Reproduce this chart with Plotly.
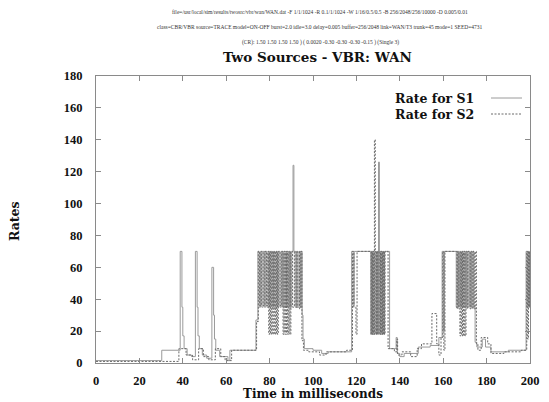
import plotly.graph_objects as go

# ---- data ----
S1_TIME = [
    0, 30.3, 38.8, 39.6, 40.0, 40.6, 42.0, 44.0, 45.8, 46.6, 47.0, 47.6, 49.0, 51.0,
    53.4, 54.2, 54.6, 55.2, 57.0, 60.8, 61.7, 73.7,
    74.6, 75.2, 75.8, 76.4, 77.0, 77.6, 78.2, 78.8, 79.4, 80.0, 80.6, 81.2, 81.8, 82.4,
    83.0, 83.6, 84.2, 84.8, 85.4, 86.0, 86.6, 87.2, 87.8, 88.4, 89.0, 89.6, 90.2,
    90.8, 91.2, 91.8, 92.4, 93.0, 93.6, 94.2, 94.6, 95.0, 95.4, 96.0, 100.0, 104.0, 107.0,
    117.8, 118.5, 119.0, 126.6, 127.0, 127.4, 127.8, 128.2, 128.6, 129.0, 129.4, 129.8,
    130.2, 130.6, 131.0, 131.4, 131.8, 132.2, 132.6, 133.0,
    135.3, 138.3, 138.8, 140.0, 142.0, 148.5, 154.0, 158.0,
    159.5, 160.0, 160.5, 166.0, 166.5, 167.0, 167.5, 168.0, 168.5, 169.0, 169.5, 170.0,
    170.5, 171.0, 171.5, 172.2, 172.7, 173.2, 173.7, 174.2, 174.7,
    175.5, 178.0, 179.5, 182.0, 190.0, 198.2, 198.6, 199.0, 199.4, 199.8, 200.0,
]
S1_RATE = [
    1.5, 8, 70, 35, 17, 9, 5, 4, 70, 35, 17, 9, 5, 3,
    60, 30, 15, 8, 4, 1.5, 8, 27,
    70, 35, 70, 35, 70, 35, 70, 35, 70, 35, 70, 35, 70, 35,
    70, 35, 70, 35, 70, 35, 70, 35, 70, 35, 70, 35, 70,
    124, 70, 35, 70, 35, 70, 35, 70, 30, 15, 9, 8, 6, 7,
    70, 36, 70, 18, 70, 18, 70, 18, 70, 18, 70, 18,
    126, 70, 18, 70, 18, 70, 18, 70,
    9, 16, 6, 4, 6, 10, 11, 16,
    70, 20, 70, 35, 70, 35, 70, 35, 70, 35, 70, 35,
    70, 35, 70, 35, 70, 35, 70, 35, 13,
    10, 15, 10, 7, 8, 70, 35, 70, 35, 70, 70,
]

S2_TIME = [
    0, 38.2, 41.5, 44.5, 47.3, 49.5, 52.0, 55.0, 57.5, 59.5, 62.5, 74.0,
    74.8, 75.4, 76.2, 77.0, 77.8, 78.6, 79.2, 79.6, 80.0, 80.4, 80.8, 81.2, 81.6, 82.0,
    82.4, 82.8, 83.2, 83.6, 84.0, 84.8, 85.6, 86.2, 86.6, 87.0, 87.4, 87.8, 88.2, 88.6,
    89.0, 89.4, 89.8, 90.6, 91.4, 92.2, 93.0, 93.8, 94.4, 94.9, 95.6, 98.0, 103.0, 106.0,
    115.5, 118.2, 118.8, 119.8, 120.3, 126.8, 127.1, 127.4, 127.7, 128.0, 128.3, 128.7,
    129.0, 129.3, 129.6, 129.9, 130.5, 130.8, 131.1, 131.4, 131.7, 132.0, 132.3, 132.6,
    132.9, 133.2, 134.6,
    137.5, 138.6, 139.0, 141.0, 145.0, 148.0, 150.0, 154.8, 157.0, 158.0, 159.0,
    159.8, 160.3, 160.8, 166.3, 166.7, 167.2, 167.7, 168.1, 168.5, 168.9, 169.3, 169.7,
    170.1, 170.5, 171.0, 171.4, 172.4, 172.8, 173.3, 173.8, 174.3, 174.8, 175.3,
    176.0, 177.5, 180.5, 182.0, 188.0, 196.0, 198.5, 198.9, 199.3, 199.7, 200.0,
]
S2_RATE = [
    1, 9, 5, 2, 9, 4, 2, 9, 4, 1.5, 8, 26,
    70, 36, 70, 36, 70, 36, 70, 18, 70, 18, 70, 18, 70, 18,
    70, 18, 70, 18, 70, 36, 70, 18, 70, 18, 70, 18, 70, 18,
    70, 18, 70, 35, 70, 35, 70, 34, 70, 14, 8, 7, 5, 7,
    8, 70, 35, 18, 70, 18, 70, 18, 70, 18, 140, 70,
    18, 70, 18, 70, 18, 70, 18, 70, 18, 70, 18, 70,
    18, 70, 9,
    7, 15, 5, 7, 4, 9, 12, 31, 12, 5, 16,
    70, 8, 70, 34, 70, 34, 17, 70, 17, 70, 17, 70,
    17, 70, 34, 70, 34, 70, 34, 70, 34, 70, 12,
    8, 16, 12, 6, 7, 8, 70, 15, 70, 35, 70,
]

SERIES_NAMES = ["Rate for S1", "Rate for S2"]
X_TICKS = [0, 20, 40, 60, 80, 100, 120, 140, 160, 180, 200]
Y_TICKS = [0, 20, 40, 60, 80, 100, 120, 140, 160, 180]
TITLE = "Two Sources - VBR: WAN"
X_TITLE = "Time in milliseconds"
Y_TITLE = "Rates"
HEADER_LINES = [
    "file=/usr/local/sim/results/twosrc/vbr/wan/WAN.dat -F 1/1/1024 -R 0.1/1/1024 -W 1/16/0.5/0.5 -B 256/2048/256/10000 -D 0.005/0.01",
    "class=CBR/VBR source=TRACE model=ON-OFF burst=2.0 idle=3.0 delay=0.005 buffer=256/2048 link=WAN/T3 trunk=45 mode=1 SEED=4731",
    "(CR): 1.50 1.50 1.50 1.50 ) ( 0.0020 -0.30 -0.30 -0.30 -0.15 ) (Single 3)",
]

assert len(S1_TIME) == len(S1_RATE)
assert len(S2_TIME) == len(S2_RATE)

SERIF = "Liberation Serif, Times New Roman, serif"
WIDE_SERIF = "DejaVu Serif, serif"
C1 = "#9a9a9a"
C2 = "#6a6a6a"
DASH2 = "2px,1.5px"

fig = go.Figure()
fig.add_trace(go.Scatter(x=S1_TIME, y=S1_RATE, mode="lines", line_shape="hv",
                         line=dict(color=C1, width=1), name=SERIES_NAMES[0],
                         showlegend=False))
fig.add_trace(go.Scatter(x=S2_TIME, y=S2_RATE, mode="lines", line_shape="hv",
                         line=dict(color=C2, width=1, dash=DASH2), name=SERIES_NAMES[1],
                         showlegend=False))

W, H = 549, 402
L, R, T, B = 96, 19, 76, 39
pw, ph = W - L - R, H - T - B


def px_x(px):
    return (px - L) / pw


def px_y(py):
    return (H - B - py) / ph


annotations = []
for line, py in zip(HEADER_LINES, [12, 27, 42]):
    annotations.append(dict(text=line, xref="paper", yref="paper", x=px_x(320), y=px_y(py),
                            showarrow=False, xanchor="center", yanchor="middle",
                            font=dict(family=SERIF, size=5.5, color="#333")))
annotations.append(dict(text="<b>" + TITLE + "</b>", xref="paper", yref="paper",
                        x=px_x(317), y=px_y(57), showarrow=False,
                        xanchor="center", yanchor="middle",
                        font=dict(family=WIDE_SERIF, size=13.5, color="#111")))
annotations.append(dict(text="<b>" + X_TITLE + "</b>", xref="paper", yref="paper",
                        x=px_x(313), y=px_y(394), showarrow=False,
                        xanchor="center", yanchor="middle",
                        font=dict(family=WIDE_SERIF, size=12, color="#111")))
annotations.append(dict(text="<b>" + Y_TITLE + "</b>", xref="paper", yref="paper",
                        x=px_x(14), y=px_y(221), showarrow=False, textangle=-90,
                        xanchor="center", yanchor="middle",
                        font=dict(family=WIDE_SERIF, size=12.5, color="#111")))

shapes = []
for name, py, col, dash in [(SERIES_NAMES[0], 98, C1, "solid"), (SERIES_NAMES[1], 114, C2, DASH2)]:
    annotations.append(dict(text="<b>" + name + "</b>", xref="paper", yref="paper",
                            x=px_x(476), y=px_y(py), showarrow=False,
                            xanchor="right", yanchor="middle",
                            font=dict(family=WIDE_SERIF, size=12.5, color="#111")))
    shapes.append(dict(type="line", xref="paper", yref="paper",
                       x0=px_x(491), x1=px_x(522), y0=px_y(py), y1=px_y(py),
                       line=dict(color=col, width=1, dash=dash)))

axis_common = dict(showgrid=False, zeroline=False, showline=True, linecolor="#8a8a8a",
                   linewidth=1, mirror="allticks", ticks="inside", ticklen=5,
                   tickcolor="#8a8a8a", tickwidth=1,
                   tickfont=dict(family=SERIF, size=12.5, color="#111", weight="bold"))

fig.update_layout(
    width=W, height=H,
    margin=dict(l=L, r=R, t=T, b=B, autoexpand=False),
    paper_bgcolor="white", plot_bgcolor="white",
    xaxis=dict(range=[0, 200], tickvals=X_TICKS, ticktext=[str(v) for v in X_TICKS],
               ticklabelstandoff=6, **axis_common),
    yaxis=dict(range=[0, 180], tickvals=Y_TICKS, ticktext=[str(v) for v in Y_TICKS],
               ticklabelstandoff=10, **axis_common),
    annotations=annotations,
    shapes=shapes,
    showlegend=False,
)

fig.write_html("out.html", config={"displayModeBar": False},
               post_script="document.body.style.margin='0';document.body.style.padding='0';")
